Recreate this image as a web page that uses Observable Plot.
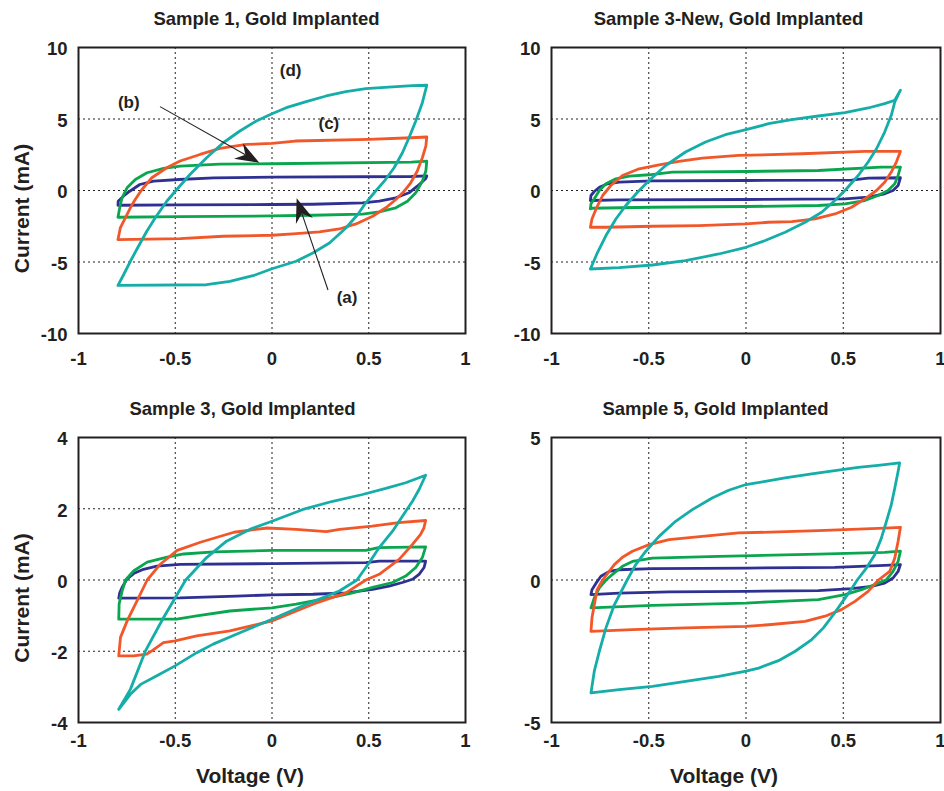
<!DOCTYPE html>
<html><head><meta charset="utf-8">
<script src="https://cdn.jsdelivr.net/npm/d3@7"></script>
<script src="https://cdn.jsdelivr.net/npm/@observablehq/plot@0.6"></script>
<style>
body{margin:0;background:#fff}
#root{position:relative;width:944px;height:791px;background:#fff}
#root svg{position:absolute}
</style>
</head><body><div id="root"></div>
<script>
// ---------- data (Voltage V, Current mA), each loop: forward sweep then reverse ----------
const seriesNames = ["a", "b", "c", "d"];
const seriesColors = ["#2e3192", "#0aa64f", "#f2572a", "#15ada8"];

const xTicks = [-1, -0.5, 0, 0.5, 1];
const xGridLines = [-0.5, 0, 0.5];

// Sample 1
const p1a = [[-0.796,-1.03],[-0.795,-0.75],[-0.76,-0.3],[-0.735,-0.05],[-0.683,0.42],[-0.612,0.65],[-0.48,0.77],[-0.3,0.88],[0,0.93],[0.72,0.98],[0.8,1.02],[0.795,0.84],[0.751,0.30],[0.708,-0.16],[0.64,-0.51],[0.554,-0.75],[0.468,-0.86],[0.211,-0.96],[0,-0.98],[-0.475,-1.0],[-0.796,-1.03]];
const p1b = [[-0.796,-1.87],[-0.787,-1.21],[-0.775,-0.51],[-0.749,0.19],[-0.706,0.77],[-0.646,1.24],[-0.56,1.54],[-0.475,1.71],[-0.27,1.85],[0,1.87],[0.72,1.99],[0.8,2.06],[0.795,1.36],[0.777,0.65],[0.743,-0.16],[0.70,-0.75],[0.64,-1.21],[0.554,-1.50],[0.468,-1.65],[0.211,-1.73],[0,-1.78],[-0.475,-1.82],[-0.796,-1.87]];
const p1c = [[-0.796,-3.43],[-0.784,-2.62],[-0.758,-1.92],[-0.732,-1.21],[-0.707,-0.63],[-0.672,0.07],[-0.621,0.89],[-0.544,1.59],[-0.475,2.06],[-0.372,2.52],[-0.269,2.94],[-0.132,3.22],[0,3.29],[0.12,3.46],[0.5,3.57],[0.72,3.69],[0.8,3.74],[0.795,3.11],[0.777,2.29],[0.751,1.36],[0.717,0.54],[0.683,-0.05],[0.64,-0.63],[0.588,-1.21],[0.52,-1.80],[0.434,-2.34],[0.348,-2.69],[0.245,-2.90],[0.108,-3.04],[0,-3.13],[-0.252,-3.20],[-0.475,-3.36],[-0.796,-3.43]];
const p1d = [[-0.796,-6.64],[-0.767,-5.89],[-0.732,-4.95],[-0.69,-3.90],[-0.647,-2.85],[-0.604,-1.92],[-0.544,-0.75],[-0.492,0.07],[-0.424,1.12],[-0.338,2.29],[-0.252,3.34],[-0.166,4.16],[-0.081,4.86],[0,5.37],[0.074,5.79],[0.177,6.21],[0.28,6.61],[0.382,6.92],[0.485,7.13],[0.623,7.24],[0.726,7.34],[0.8,7.36],[0.777,6.14],[0.743,4.86],[0.708,3.69],[0.674,2.64],[0.631,1.59],[0.58,0.65],[0.528,-0.16],[0.485,-0.86],[0.443,-1.68],[0.382,-2.62],[0.297,-3.67],[0.211,-4.37],[0.125,-4.95],[0,-5.47],[-0.098,-5.96],[-0.218,-6.36],[-0.338,-6.59],[-0.796,-6.64]];

// Sample 3-New
const p2a = [[-0.80,-0.70],[-0.797,-0.35],[-0.78,-0.07],[-0.754,0.23],[-0.712,0.47],[-0.652,0.58],[-0.481,0.68],[0,0.70],[0.543,0.72],[0.628,0.86],[0.794,0.89],[0.782,0.35],[0.756,0],[0.713,-0.23],[0.628,-0.47],[0.509,-0.58],[0,-0.63],[-0.652,-0.65],[-0.80,-0.70]];
const p2b = [[-0.80,-1.29],[-0.797,-0.93],[-0.78,-0.58],[-0.754,0],[-0.72,0.47],[-0.669,0.82],[-0.6,1.0],[-0.498,1.10],[-0.379,1.29],[0,1.33],[0.372,1.40],[0.696,1.64],[0.794,1.64],[0.782,1.05],[0.765,0.47],[0.73,0],[0.679,-0.35],[0.611,-0.70],[0.509,-0.93],[0.372,-1.05],[0,-1.12],[-0.481,-1.17],[-0.80,-1.24],[-0.80,-1.29]];
const p2c = [[-0.80,-2.57],[-0.792,-1.99],[-0.771,-1.29],[-0.737,-0.35],[-0.695,0.35],[-0.635,1.05],[-0.549,1.52],[-0.447,1.80],[-0.345,2.03],[-0.225,2.27],[-0.038,2.45],[0.287,2.57],[0.611,2.73],[0.794,2.73],[0.773,1.99],[0.747,1.29],[0.713,0.58],[0.671,0],[0.611,-0.58],[0.543,-1.17],[0.457,-1.64],[0.355,-1.99],[0.235,-2.17],[0.116,-2.22],[0,-2.34],[-0.242,-2.45],[-0.481,-2.50],[-0.72,-2.57],[-0.80,-2.57]];
const p2d = [[-0.80,-5.49],[-0.763,-4.32],[-0.72,-3.15],[-0.669,-1.99],[-0.618,-1.05],[-0.558,-0.12],[-0.498,0.70],[-0.413,1.75],[-0.311,2.69],[-0.208,3.39],[-0.106,3.90],[0,4.25],[0.116,4.67],[0.235,4.95],[0.372,5.21],[0.509,5.44],[0.628,5.77],[0.713,6.07],[0.765,6.31],[0.794,7.01],[0.765,6.19],[0.747,5.26],[0.713,4.09],[0.671,2.92],[0.628,1.99],[0.577,1.05],[0.517,0.12],[0.457,-0.70],[0.389,-1.52],[0.304,-2.22],[0.201,-2.92],[0.099,-3.50],[0,-3.97],[-0.14,-4.44],[-0.311,-4.91],[-0.481,-5.21],[-0.652,-5.40],[-0.80,-5.49]];

// Sample 3
const p3a = [[-0.792,-0.51],[-0.787,-0.36],[-0.775,-0.21],[-0.75,0.02],[-0.715,0.18],[-0.664,0.30],[-0.595,0.39],[-0.475,0.44],[0,0.46],[0.485,0.49],[0.554,0.53],[0.794,0.53],[0.786,0.35],[0.76,0.16],[0.726,0.02],[0.674,-0.07],[0.605,-0.17],[0.52,-0.26],[0.382,-0.36],[0.211,-0.40],[0,-0.42],[-0.184,-0.45],[-0.475,-0.50],[-0.792,-0.51]];
const p3b = [[-0.792,-1.10],[-0.79,-0.67],[-0.774,-0.30],[-0.757,0],[-0.714,0.26],[-0.645,0.50],[-0.542,0.64],[-0.456,0.73],[-0.3,0.79],[0,0.83],[0.485,0.83],[0.55,0.91],[0.794,0.93],[0.777,0.63],[0.743,0.35],[0.691,0.11],[0.623,-0.07],[0.52,-0.21],[0.417,-0.36],[0.297,-0.50],[0.125,-0.68],[0,-0.78],[-0.218,-0.87],[-0.389,-1.01],[-0.492,-1.10],[-0.792,-1.10]];
const p3c = [[-0.792,-2.13],[-0.783,-1.61],[-0.748,-1.14],[-0.697,-0.58],[-0.645,0],[-0.576,0.45],[-0.49,0.83],[-0.37,1.06],[-0.197,1.34],[-0.025,1.46],[0.125,1.42],[0.28,1.36],[0.35,1.42],[0.518,1.51],[0.655,1.61],[0.794,1.67],[0.785,1.46],[0.768,1.28],[0.726,1.0],[0.657,0.58],[0.554,0.16],[0.485,0],[0.382,-0.36],[0.211,-0.68],[0,-1.15],[-0.218,-1.43],[-0.389,-1.57],[-0.501,-1.71],[-0.561,-1.76],[-0.621,-1.99],[-0.647,-2.08],[-0.715,-2.13],[-0.792,-2.13]];
const p3d = [[-0.792,-3.63],[-0.732,-3.07],[-0.654,-1.99],[-0.561,-1.06],[-0.446,0],[-0.338,0.63],[-0.235,1.09],[-0.115,1.42],[0,1.65],[0.16,1.98],[0.314,2.21],[0.468,2.40],[0.588,2.57],[0.691,2.73],[0.794,2.94],[0.76,2.54],[0.726,2.21],[0.674,1.79],[0.623,1.37],[0.554,0.91],[0.503,0.49],[0.439,0],[0.348,-0.31],[0.177,-0.68],[0,-1.10],[-0.166,-1.48],[-0.304,-1.80],[-0.389,-2.04],[-0.501,-2.41],[-0.595,-2.69],[-0.679,-2.93],[-0.732,-3.21],[-0.792,-3.63]];

// Sample 5
const p4a = [[-0.797,-0.51],[-0.792,-0.34],[-0.771,-0.11],[-0.746,0.13],[-0.703,0.30],[-0.652,0.36],[-0.481,0.40],[0,0.42],[0.457,0.44],[0.713,0.51],[0.794,0.54],[0.782,0.30],[0.756,0.07],[0.713,-0.11],[0.645,-0.22],[0.543,-0.30],[0.372,-0.37],[0,-0.40],[-0.396,-0.42],[-0.652,-0.46],[-0.797,-0.51]];
const p4b = [[-0.797,-0.98],[-0.78,-0.63],[-0.754,-0.28],[-0.72,0],[-0.677,0.25],[-0.635,0.48],[-0.584,0.65],[-0.481,0.77],[-0.14,0.83],[0.372,0.91],[0.713,0.97],[0.794,1.01],[0.782,0.65],[0.756,0.30],[0.722,0.01],[0.662,-0.16],[0.594,-0.34],[0.509,-0.51],[0.372,-0.69],[0.116,-0.77],[0,-0.81],[-0.481,-0.89],[-0.797,-0.98]];
const p4c = [[-0.797,-1.80],[-0.792,-1.33],[-0.78,-0.87],[-0.766,-0.35],[-0.737,0],[-0.677,0.54],[-0.635,0.80],[-0.584,1.01],[-0.498,1.24],[-0.396,1.42],[-0.225,1.53],[-0.038,1.65],[0.372,1.73],[0.713,1.82],[0.794,1.85],[0.782,1.36],[0.765,0.77],[0.739,0.30],[0.681,0],[0.628,-0.40],[0.56,-0.75],[0.491,-1.04],[0.406,-1.27],[0.304,-1.45],[0.116,-1.57],[0,-1.63],[-0.311,-1.68],[-0.584,-1.74],[-0.797,-1.80]];
const p4d = [[-0.797,-3.96],[-0.78,-3.20],[-0.754,-2.50],[-0.72,-1.68],[-0.677,-0.87],[-0.611,0],[-0.567,0.54],[-0.515,1.01],[-0.447,1.53],[-0.362,2.06],[-0.276,2.47],[-0.174,2.88],[-0.089,3.15],[0,3.35],[0.099,3.46],[0.201,3.58],[0.338,3.72],[0.457,3.84],[0.577,3.95],[0.679,4.02],[0.79,4.11],[0.782,3.81],[0.765,3.23],[0.747,2.64],[0.722,2.06],[0.696,1.47],[0.662,0.89],[0.619,0.42],[0.572,0],[0.534,-0.40],[0.491,-0.81],[0.449,-1.22],[0.398,-1.68],[0.338,-2.09],[0.253,-2.50],[0.167,-2.83],[0.065,-3.09],[0,-3.20],[-0.14,-3.38],[-0.311,-3.56],[-0.481,-3.73],[-0.652,-3.85],[-0.797,-3.96]];

// Panel titles and y ticks
const titles = ["Sample 1, Gold Implanted", "Sample 3-New, Gold Implanted", "Sample 3, Gold Implanted", "Sample 5, Gold Implanted"];
const yTicks1 = [-10, -5, 0, 5, 10], yGrid1 = [-5, 0, 5];
const yTicks2 = [-10, -5, 0, 5, 10], yGrid2 = [-5, 0, 5];
const yTicks3 = [-4, -2, 0, 2, 4], yGrid3 = [-2, 0, 2];
const yTicks4 = [-5, 0, 5], yGrid4 = [0];
const yLabel = "Current (mA)";
const xLabel = "Voltage (V)";

// Annotations for Sample 1
const annLabels = ["(d)", "(b)", "(c)", "(a)"];
const annV = [0.096, -0.74, 0.294, 0.388];
const annI = [8.39, 6.17, 4.66, -7.50];
const arrowTailV = [-0.576, 0.292], arrowTailI = [5.83, -6.99];
const arrowTipV = [-0.063, 0.130], arrowTipI = [1.91, -0.58];

// ---------- drawing ----------
const FONT = "'Liberation Sans', Arial, Helvetica, sans-serif";
const INK = "#231f20";
const root = document.getElementById("root");

function rows(loop, s) { return loop.map(([V, I]) => ({V, I, s})); }

function panel(cfg) {
  const loops = cfg.loops;
  const marks = [
    Plot.ruleX(xGridLines, {stroke: INK, strokeWidth: 1, strokeDasharray: "2,3"}),
    Plot.ruleY(cfg.yGrid, {stroke: INK, strokeWidth: 1, strokeDasharray: "2,3"}),
    ...loops.map((lp, i) => Plot.line(rows(lp, seriesNames[i]), {x: "V", y: "I", stroke: seriesColors[i], strokeWidth: 2.8, strokeLinejoin: "round"})),
    Plot.frame({stroke: INK, strokeWidth: 2}),
    Plot.axisX(xTicks, {tickSize: 0, tickPadding: cfg.xPad, tickFormat: d => String(d), label: null, fontSize: 18.5, fontWeight: "bold", fill: INK}),
    Plot.axisY(cfg.yTicks, {tickSize: 0, tickPadding: 11, dy: 2, tickFormat: d => String(d), label: null, fontSize: 18.5, fontWeight: "bold", fill: INK}),
    Plot.text([cfg.title], {frameAnchor: "top", textAnchor: "middle", lineAnchor: "middle", dx: cfg.titleDx, dy: -28, fontSize: 18.5, fontWeight: "bold", fill: INK})
  ];
  if (cfg.yLab) marks.push(Plot.text([yLabel], {frameAnchor: "left", textAnchor: "middle", lineAnchor: "middle", rotate: -90, dx: -56, dy: 18, fontSize: 21, fontWeight: "bold", fill: INK}));
  if (cfg.xLab) marks.push(Plot.text([xLabel], {frameAnchor: "bottom", textAnchor: "middle", lineAnchor: "middle", dx: -22, dy: 54, fontSize: 21, fontWeight: "bold", fill: INK}));
  if (cfg.ann) {
    const annData = annLabels.map((t, i) => ({t, V: annV[i], I: annI[i]}));
    marks.push(Plot.text(annData, {x: "V", y: "I", text: "t", fontSize: 17, fontWeight: "bold", fill: INK}));
  }
  const svg = Plot.plot({
    width: 472, height: cfg.h,
    marginLeft: cfg.ml, marginRight: cfg.mr, marginTop: 47, marginBottom: cfg.mb,
    style: {fontFamily: FONT, fontWeight: "bold", color: INK, background: "transparent", overflow: "visible"},
    x: {domain: [-1, 1], label: null},
    y: {domain: cfg.yDomain, label: null},
    marks
  });
  if (cfg.ann) {
    const sx = svg.scale("x"), sy = svg.scale("y");
    const g = d3.select(svg).append("g");
    arrowTailV.forEach((_, i) => {
      const x0 = sx.apply(arrowTailV[i]), y0 = sy.apply(arrowTailI[i]);
      const x1 = sx.apply(arrowTipV[i]), y1 = sy.apply(arrowTipI[i]);
      const dx = x1 - x0, dy = y1 - y0, len = Math.hypot(dx, dy);
      const ux = dx / len, uy = dy / len, nx = -uy, ny = ux;
      const L = 24, W = 9, N = 16;
      const bx = x1 - ux * L, by = y1 - uy * L;
      const kx = x1 - ux * N, ky = y1 - uy * N;
      g.append("line").attr("x1", x0).attr("y1", y0).attr("x2", kx).attr("y2", ky)
        .attr("stroke", INK).attr("stroke-width", 1.1);
      g.append("path")
        .attr("d", `M${x1},${y1}L${bx + nx * W},${by + ny * W}L${kx},${ky}L${bx - nx * W},${by - ny * W}Z`)
        .attr("fill", INK);
    });
  }
  svg.style.left = cfg.left + "px";
  svg.style.top = cfg.top + "px";
  root.appendChild(svg);
}

panel({title: titles[0], loops: [p1a, p1b, p1c, p1d], yDomain: [-10, 10], yTicks: yTicks1, yGrid: yGrid1,
  left: 0, top: 0, h: 390, ml: 78, mr: 7, mb: 57, xPad: 18, titleDx: -5.5, yLab: true, xLab: false, ann: true});
panel({title: titles[1], loops: [p2a, p2b, p2c, p2d], yDomain: [-10, 10], yTicks: yTicks2, yGrid: yGrid2,
  left: 472, top: 0, h: 390, ml: 79, mr: 4, mb: 57, xPad: 18, titleDx: -17.5, yLab: false, xLab: false});
panel({title: titles[2], loops: [p3a, p3b, p3c, p3d], yDomain: [-4, 4], yTicks: yTicks3, yGrid: yGrid3,
  left: 0, top: 390, h: 401, ml: 78, mr: 7, mb: 69, xPad: 11, titleDx: -29.5, yLab: true, xLab: true});
panel({title: titles[3], loops: [p4a, p4b, p4c, p4d], yDomain: [-5, 5], yTicks: yTicks4, yGrid: yGrid4,
  left: 472, top: 390, h: 401, ml: 79, mr: 4, mb: 69, xPad: 11, titleDx: -30.5, yLab: false, xLab: true});
</script></body></html>
